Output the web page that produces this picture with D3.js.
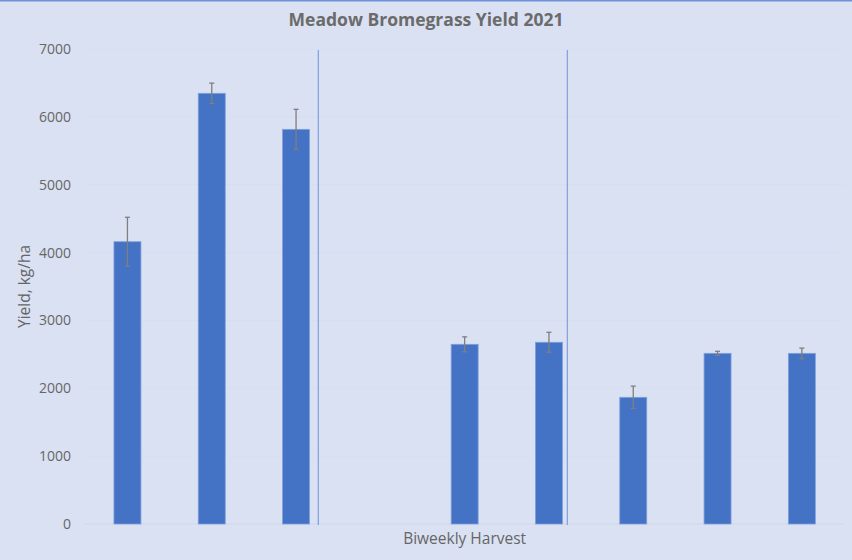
<!DOCTYPE html>
<html><head><meta charset="utf-8">
<script src="https://cdn.jsdelivr.net/npm/d3@7"></script>
<style>
html,body{margin:0;padding:0;background:#dae1f3;}
svg{display:block;}
text{font-family:"Open Sans","Liberation Sans",sans-serif;}
</style></head>
<body><svg id="c" width="852" height="560"></svg>
<script>
const categories = ["1","2","3","4","5","6","7","8","9"];
const yieldValues = [4160, 6347, 5816, null, 2648, 2678, 1867, 2515, 2515];
const errorValues = [360, 150, 295, null, 110, 147, 165, 30, 77];
const yTicks = [0,1000,2000,3000,4000,5000,6000,7000];
const separatorsAt = [2.764, 5.718]; // in category-slot units
const title = "Meadow Bromegrass Yield 2021";
const yTitle = "Yield, kg/ha";
const xTitle = "Biweekly Harvest";

const W = 852, H = 560;
const m = {left:85.3, right:8, top:49, bottom:36};
const svg = d3.select("#c");
svg.append("rect").attr("width",W).attr("height",H).attr("fill","#dae1f3");
svg.append("line").attr("x1",0).attr("x2",W).attr("y1",0.75).attr("y2",0.75)
  .attr("stroke","#6f93d9").attr("stroke-width",1.5);

const x = d3.scaleBand().domain(categories).range([m.left, W-m.right]).paddingInner(0.68).paddingOuter(0.34);
const xLin = d3.scaleLinear().domain([0, categories.length]).range([m.left, W-m.right]);
const y = d3.scaleLinear().domain([0,7000]).range([H-m.bottom, m.top]);

// gridlines
svg.append("g").selectAll("line").data(yTicks).join("line")
  .attr("x1",m.left).attr("x2",W-m.right)
  .attr("y1",d=>y(d)).attr("y2",d=>y(d))
  .attr("stroke", d=> d===0 ? "#d0d7ea" : "#d7def1").attr("stroke-width",1);

// y axis labels
const yAxis = d3.axisLeft(y).tickValues(yTicks).tickFormat(d3.format("d")).tickSize(0).tickPadding(0);
const gy = svg.append("g").attr("transform",`translate(71,0)`).call(yAxis);
gy.select(".domain").remove();
gy.selectAll("text").attr("fill","#666666").attr("font-size","14px").attr("font-family","Open Sans");

// bars
const data = categories.map((c,i)=>({c, v:yieldValues[i], e:errorValues[i]})).filter(d=>d.v!=null);
svg.append("g").selectAll("rect").data(data).join("rect")
  .attr("x",d=>x(d.c)).attr("width",x.bandwidth())
  .attr("y",d=>y(d.v)).attr("height",d=>y(0)-y(d.v))
  .attr("fill","#4472c4").attr("stroke","#7f9fdc").attr("stroke-width",0.8);

// error bars
const eg = svg.append("g").attr("stroke","#7f7f7f").attr("stroke-width",1.3);
data.forEach(d=>{
  const cx = x(d.c)+x.bandwidth()/2;
  eg.append("line").attr("x1",cx).attr("x2",cx).attr("y1",y(d.v+d.e)).attr("y2",y(d.v-d.e));
  eg.append("line").attr("x1",cx-2.5).attr("x2",cx+2.5).attr("y1",y(d.v+d.e)).attr("y2",y(d.v+d.e));
  eg.append("line").attr("x1",cx-2.5).attr("x2",cx+2.5).attr("y1",y(d.v-d.e)).attr("y2",y(d.v-d.e));
});

// separators
svg.append("g").selectAll("line").data(separatorsAt).join("line")
  .attr("x1",d=>xLin(d)).attr("x2",d=>xLin(d))
  .attr("y1",y(7000)+1).attr("y2",y(0)+1)
  .attr("stroke","#7f9fdc").attr("stroke-width",1.2);

// titles
svg.append("text").attr("x",W/2).attr("y",26).attr("text-anchor","middle")
  .attr("font-size","17.5px").attr("font-weight","bold").attr("fill","#6b6b6b").text(title);
svg.append("text").attr("transform",`translate(30,${(y(0)+y(7000))/2}) rotate(-90)`)
  .attr("text-anchor","middle").attr("font-size","15.5px").attr("fill","#666666").text(yTitle);
svg.append("text").attr("x",(m.left+W-m.right)/2).attr("y",544).attr("text-anchor","middle")
  .attr("font-size","15.5px").attr("fill","#666666").text(xTitle);
</script></body></html>
